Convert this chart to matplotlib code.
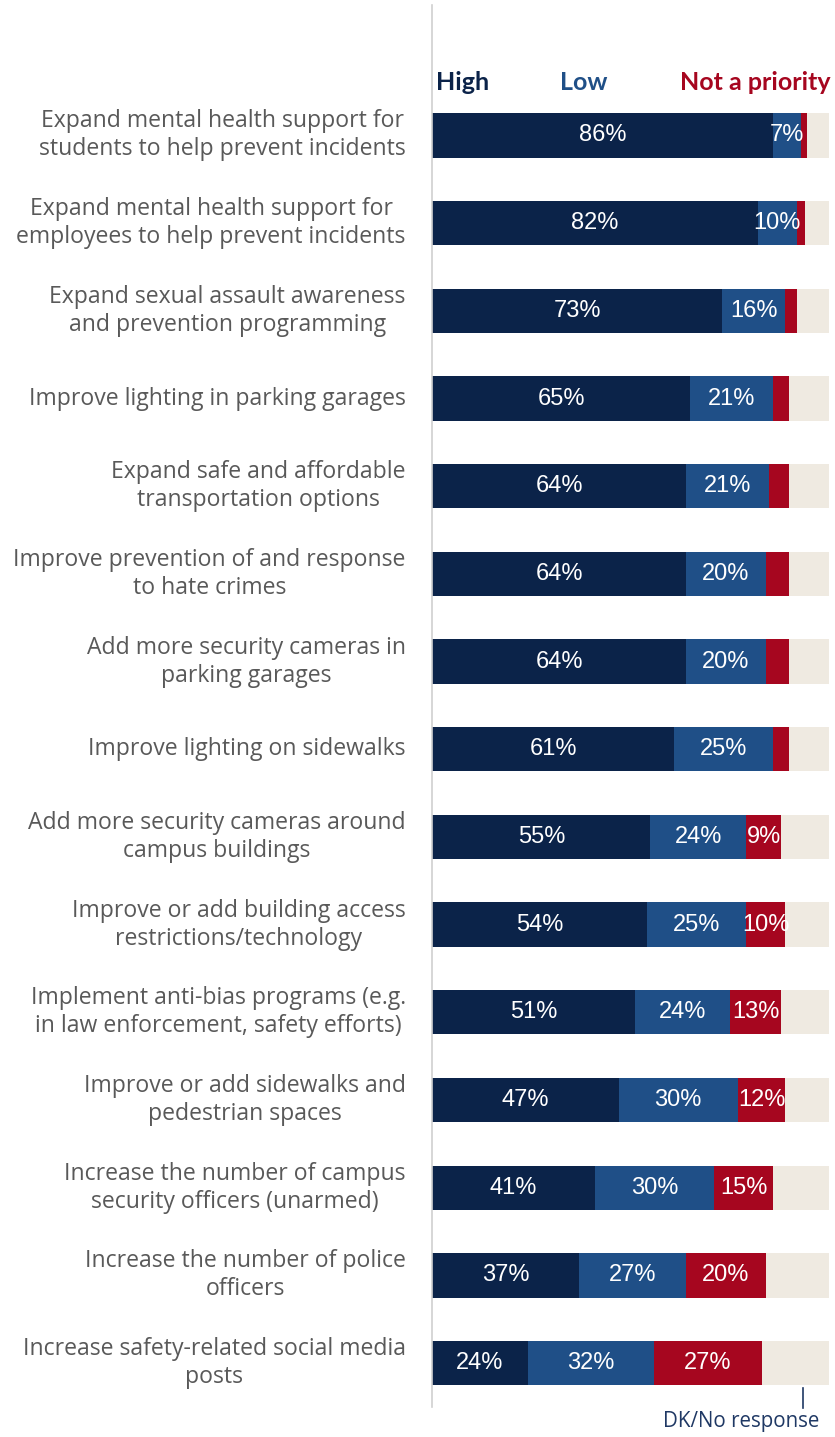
import matplotlib
matplotlib.use("Agg")
import matplotlib.pyplot as plt
from matplotlib.lines import Line2D
import numpy as np

categories = [
    "Expand mental health support for\nstudents to help prevent incidents",
    "Expand mental health support for\nemployees to help prevent incidents",
    "Expand sexual assault awareness\nand prevention programming",
    "Improve lighting in parking garages",
    "Expand safe and affordable\ntransportation options",
    "Improve prevention of and response\nto hate crimes",
    "Add more security cameras in\nparking garages",
    "Improve lighting on sidewalks",
    "Add more security cameras around\ncampus buildings",
    "Improve or add building access\nrestrictions/technology",
    "Implement anti-bias programs (e.g.\nin law enforcement, safety efforts)",
    "Improve or add sidewalks and\npedestrian spaces",
    "Increase the number of campus\nsecurity officers (unarmed)",
    "Increase the number of police\nofficers",
    "Increase safety-related social media\nposts",
]
high = [86, 82, 73, 65, 64, 64, 64, 61, 55, 54, 51, 47, 41, 37, 24]
low = [7, 10, 16, 21, 21, 20, 20, 25, 24, 25, 24, 30, 30, 27, 32]
notpri = [1.5, 2, 3, 4, 5, 6, 6, 4, 9, 10, 13, 12, 15, 20, 27]
dk = [100 - h - l - n for h, l, n in zip(high, low, notpri)]

series_names = ["High", "Low", "Not a priority"]
colors = ["#0B2349", "#1F4F87", "#A6061F", "#EFEAE1"]
label_color = "#595959"

W, H = 835, 1437
fig = plt.figure(figsize=(W / 100, H / 100), dpi=100)
fig.patch.set_facecolor("white")

left_px, right_px = 432.3, 829.0
top_px, bot_px = 91.6, 1406.9
ax = fig.add_axes([left_px / W, 1 - bot_px / H, (right_px - left_px) / W, (bot_px - top_px) / H])

y = np.arange(len(categories))
bh = 0.505
lefts = np.zeros(len(categories))
for vals, c in zip([high, low, notpri, dk], colors):
    ax.barh(y, vals, left=lefts, height=bh, color=c, edgecolor="none")
    lefts = lefts + np.array(vals)

# value labels
val_font = dict(family="Liberation Sans", fontsize=17, color="white", ha="center", va="center")
cum = np.zeros(len(categories))
for vals, min_show in zip([high, low, notpri], [0, 0, 8]):
    for i, v in enumerate(vals):
        if v >= min_show:
            ax.text(cum[i] + v / 2, i, f"{round(v)}%", **val_font)
    cum = cum + np.array(vals)

# category labels
for i, cat in enumerate(categories):
    ax.text(-6.7, i, cat, ha="right", va="center", multialignment="center",
            fontsize=16.6, color=label_color, family="Open Sans", linespacing=1.22)

ax.set_xlim(0, 100)
ax.set_ylim(len(categories) - 0.5, -0.5)
ax.axis("off")

# vertical axis line
fig.add_artist(Line2D([left_px / W, left_px / W], [1 - 5 / H, 1 - 1407 / H],
                      color="#D0D0D0", lw=1.2, transform=fig.transFigure))

# legend header
leg_y = 1 - 82 / H
fig.text(436 / W, leg_y, series_names[0], color=colors[0], fontsize=18, fontweight="bold",
         family="Lato", ha="left", va="center")
fig.text(584 / W, leg_y, series_names[1], color=colors[1], fontsize=18, fontweight="bold",
         family="Lato", ha="center", va="center")
fig.text(831 / W, leg_y, series_names[2], color=colors[2], fontsize=18, fontweight="bold",
         family="Lato", ha="right", va="center")

# DK annotation
fig.add_artist(Line2D([803 / W, 803 / W], [1 - 1388 / H, 1 - 1408 / H],
                      color="#1F3864", lw=1.2, transform=fig.transFigure))
fig.text(741.5 / W, 1 - 1422 / H, "DK/No response", color="#1F3864", fontsize=14.8,
         family="Open Sans", ha="center", va="center")

fig.savefig("out.png", dpi=100, facecolor="white")
